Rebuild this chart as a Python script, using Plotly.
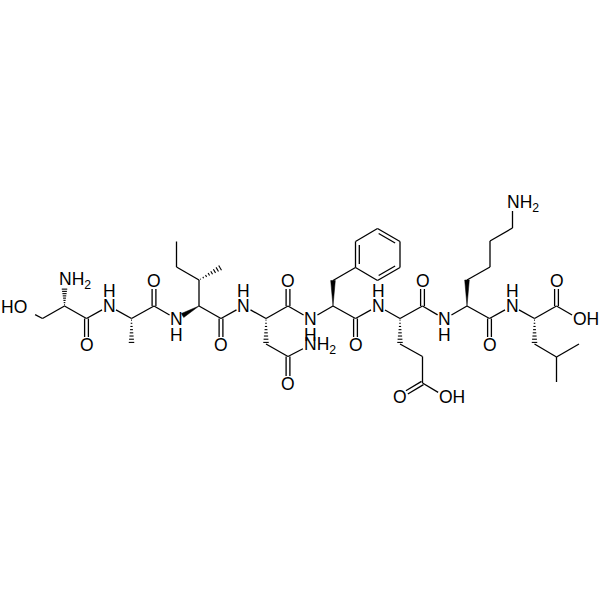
import plotly.graph_objects as go

# atom positions (pixels, y pointing down)
atoms = {
    'ser_o': (28, 311), 'ser_cb': (42.5, 318.5), 'ser_ca': (64.5, 306), 'ser_n': (64.5, 280),
    'ser_c': (86.5, 318.5), 'ser_ox': (86.5, 345),
    'ala_n': (109, 306), 'ala_ca': (131.5, 318.5), 'ala_cb': (131.5, 344),
    'ala_c': (154, 306), 'ala_ox': (154, 281),
    'ile_n': (176.5, 319), 'ile_ca': (199, 306), 'ile_cb': (199, 280), 'ile_cg2': (221.5, 267),
    'ile_cg1': (176.5, 267), 'ile_cd': (176.5, 241.5), 'ile_c': (221, 318.5), 'ile_ox': (221, 345),
    'asn_n': (243.5, 306), 'asn_ca': (266, 318.5), 'asn_cb': (266, 344), 'asn_cg': (288, 356.5),
    'asn_od': (288, 384), 'asn_nd': (310, 345), 'asn_c': (288, 306), 'asn_ox': (288, 281),
    'phe_n': (310.5, 319), 'phe_ca': (333, 306), 'phe_cb': (333, 280.5),
    'phe_c1': (355.5, 267.5), 'phe_c2': (355.5, 241.5), 'phe_c3': (377.5, 228.5),
    'phe_c4': (400, 241.5), 'phe_c5': (400, 267.5), 'phe_c6': (377.5, 280.5),
    'phe_c': (355.5, 318.5), 'phe_ox': (355.5, 345),
    'glu_n': (378, 306), 'glu_ca': (400, 318.5), 'glu_cb': (400, 344), 'glu_cg': (422.5, 356.5),
    'glu_cd': (422.5, 383), 'glu_oe1': (400, 396.5), 'glu_oe2': (445, 396.5),
    'glu_c': (422.5, 306), 'glu_ox': (422.5, 281),
    'lys_n': (444.5, 319), 'lys_ca': (467, 306), 'lys_cb': (467, 280), 'lys_cg': (490, 267),
    'lys_cd': (490, 241), 'lys_ce': (512.5, 228), 'lys_nz': (512.5, 203),
    'lys_c': (489.5, 318.5), 'lys_ox': (489.5, 345),
    'leu_n': (512, 306), 'leu_ca': (534.5, 318.5), 'leu_c': (556.5, 306), 'leu_ox': (556.5, 281),
    'leu_oh': (579, 319), 'leu_cb': (534.5, 344), 'leu_cg': (556.5, 357),
    'leu_cd1': (579, 344), 'leu_cd2': (556.5, 382),
}

single_bonds = [
    ('ser_o', 'ser_cb'), ('ser_cb', 'ser_ca'), ('ser_ca', 'ser_c'), ('ser_c', 'ala_n'), ('ala_n', 'ala_ca'),
    ('ala_ca', 'ala_c'), ('ala_c', 'ile_n'), ('ile_ca', 'ile_cb'), ('ile_cb', 'ile_cg1'), ('ile_cg1', 'ile_cd'),
    ('ile_ca', 'ile_c'), ('ile_c', 'asn_n'), ('asn_n', 'asn_ca'), ('asn_ca', 'asn_c'), ('asn_cb', 'asn_cg'),
    ('asn_cg', 'asn_nd'), ('asn_c', 'phe_n'), ('phe_n', 'phe_ca'), ('phe_ca', 'phe_c'), ('phe_cb', 'phe_c1'),
    ('phe_c', 'glu_n'), ('glu_n', 'glu_ca'), ('glu_ca', 'glu_c'), ('glu_cb', 'glu_cg'), ('glu_cg', 'glu_cd'),
    ('glu_cd', 'glu_oe2'), ('glu_c', 'lys_n'), ('lys_n', 'lys_ca'), ('lys_ca', 'lys_c'), ('lys_cb', 'lys_cg'),
    ('lys_cg', 'lys_cd'), ('lys_cd', 'lys_ce'), ('lys_ce', 'lys_nz'), ('lys_c', 'leu_n'), ('leu_n', 'leu_ca'),
    ('leu_ca', 'leu_c'), ('leu_c', 'leu_oh'), ('leu_cb', 'leu_cg'), ('leu_cg', 'leu_cd1'), ('leu_cg', 'leu_cd2'),
    ('phe_c1', 'phe_c2'), ('phe_c2', 'phe_c3'), ('phe_c3', 'phe_c4'), ('phe_c4', 'phe_c5'), ('phe_c5', 'phe_c6'),
    ('phe_c6', 'phe_c1'),
]
# two strokes either side of the bond axis
double_bonds = [
    ('ser_c', 'ser_ox'), ('ala_c', 'ala_ox'), ('ile_c', 'ile_ox'), ('asn_c', 'asn_ox'), ('asn_cg', 'asn_od'),
    ('phe_c', 'phe_ox'), ('glu_c', 'glu_ox'), ('glu_cd', 'glu_oe1'), ('lys_c', 'lys_ox'), ('leu_c', 'leu_ox'),
]
# second stroke inside the ring
ring_doubles = [('phe_c1', 'phe_c2'), ('phe_c3', 'phe_c4'), ('phe_c5', 'phe_c6')]
ring_center = (377.7, 254.5)

wedge_bonds = [('ile_ca', 'ile_n'), ('phe_ca', 'phe_cb'), ('lys_ca', 'lys_cb')]
hash_bonds = [
    ('ser_ca', 'ser_n'), ('ala_ca', 'ala_cb'), ('ile_cb', 'ile_cg2'), ('asn_ca', 'asn_cb'),
    ('glu_ca', 'glu_cb'), ('leu_ca', 'leu_cb'),
]

# atoms whose bonds stop short of a letter, and by how much
label_gap = {
    'ser_o': 8, 'ser_n': 8, 'ser_ox': 8, 'ala_n': 8, 'ala_ox': 8, 'ile_n': 8, 'ile_ox': 8, 'asn_n': 8,
    'asn_od': 8, 'asn_nd': 8, 'asn_ox': 8, 'phe_n': 8, 'phe_ox': 8, 'glu_n': 8, 'glu_oe1': 8, 'glu_oe2': 8,
    'glu_ox': 8, 'lys_n': 8, 'lys_nz': 8, 'lys_ox': 8, 'leu_n': 8, 'leu_ox': 8, 'leu_oh': 8,
}

centered_labels = [
    ('O', 'ser_ox'), ('N', 'ala_n'), ('O', 'ala_ox'), ('N', 'ile_n'), ('O', 'ile_ox'), ('N', 'asn_n'),
    ('O', 'asn_od'), ('O', 'asn_ox'), ('N', 'phe_n'), ('O', 'phe_ox'), ('N', 'glu_n'), ('O', 'glu_oe1'),
    ('O', 'glu_ox'), ('N', 'lys_n'), ('O', 'lys_ox'), ('N', 'leu_n'), ('O', 'leu_ox'),
]
# H sitting above or below its N
h_above = ['ala_n', 'asn_n', 'glu_n', 'leu_n']
h_below = ['ile_n', 'phe_n', 'lys_n']
# left aligned groups starting at the first letter
left_labels = [
    ('NH<sub>2</sub>', 'ser_n'), ('NH<sub>2</sub>', 'asn_nd'), ('NH<sub>2</sub>', 'lys_nz'),
    ('OH', 'glu_oe2'), ('OH', 'leu_oh'),
]
right_labels = [('HO', 'ser_o')]

ink = '#000000'
line_w = 1.3
font_size = 17.5
font_name = 'Liberation Sans'


def trimmed(a, b):
    (x0, y0), (x1, y1) = atoms[a], atoms[b]
    length = ((x1 - x0) ** 2 + (y1 - y0) ** 2) ** 0.5
    ux, uy = (x1 - x0) / length, (y1 - y0) / length
    ga, gb = label_gap.get(a, 0), label_gap.get(b, 0)
    return x0 + ux * ga, y0 + uy * ga, x1 - ux * gb, y1 - uy * gb, ux, uy, length


xs, ys = [], []
for a, b in single_bonds:
    x0, y0, x1, y1, ux, uy, length = trimmed(a, b)
    xs += [x0, x1, None]
    ys += [y0, y1, None]

fig = go.Figure()
fig.add_trace(go.Scatter(x=xs, y=ys, mode='lines', line=dict(color=ink, width=line_w)))

# C=O strokes
xs, ys = [], []
for a, b in double_bonds:
    x0, y0, x1, y1, ux, uy, length = trimmed(a, b)
    for side in (-1.9, 1.9):
        xs += [x0 - uy * side, x1 - uy * side, None]
        ys += [y0 + ux * side, y1 + ux * side, None]
for a, b in ring_doubles:
    x0, y0, x1, y1, ux, uy, length = trimmed(a, b)
    mx, my = (x0 + x1) / 2, (y0 + y1) / 2
    d = ((ring_center[0] - mx) ** 2 + (ring_center[1] - my) ** 2) ** 0.5
    nx, ny = (ring_center[0] - mx) / d, (ring_center[1] - my) / d
    xs += [x0 + nx * 3.8 + ux * 3.5, x1 + nx * 3.8 - ux * 3.5, None]
    ys += [y0 + ny * 3.8 + uy * 3.5, y1 + ny * 3.8 - uy * 3.5, None]
fig.add_trace(go.Scatter(x=xs, y=ys, mode='lines', line=dict(color=ink, width=line_w)))

# solid wedges, narrow end on the stereocentre
for a, b in wedge_bonds:
    x0, y0, x1, y1, ux, uy, length = trimmed(a, b)
    if b == 'ile_n':
        x1, y1 = x1 + ux * 1.0, y1 + uy * 1.0
    fig.add_trace(go.Scatter(
        x=[x0, x1 - uy * 2.3, x1 + uy * 2.3, x0],
        y=[y0, y1 + ux * 2.3, y1 - ux * 2.3, y0],
        mode='lines', fill='toself', fillcolor=ink, line=dict(color=ink, width=0.5)))

# hashed wedges
xs, ys = [], []
for a, b in hash_bonds:
    x0, y0, x1, y1, ux, uy, length = trimmed(a, b)
    n = 8
    for i in range(n):
        t = (i + 0.5) / n
        half = 2.6 * t + 0.3
        px, py = x0 + (x1 - x0) * t, y0 + (y1 - y0) * t
        xs += [px - uy * half, px + uy * half, None]
        ys += [py + ux * half, py - ux * half, None]
fig.add_trace(go.Scatter(x=xs, y=ys, mode='lines', line=dict(color=ink, width=1.1)))

text_font = dict(family=font_name, size=font_size, color=ink)
for text, atom in centered_labels:
    fig.add_annotation(x=atoms[atom][0], y=atoms[atom][1], text=text, showarrow=False,
                       xanchor='center', yanchor='middle', font=text_font)
for atom in h_above:
    fig.add_annotation(x=atoms[atom][0], y=atoms[atom][1] - 15.5, text='H', showarrow=False,
                       xanchor='center', yanchor='middle', font=text_font)
for atom in h_below:
    fig.add_annotation(x=atoms[atom][0], y=atoms[atom][1] + 15.5, text='H', showarrow=False,
                       xanchor='center', yanchor='middle', font=text_font)
for text, atom in left_labels:
    fig.add_annotation(x=atoms[atom][0] - 8, y=atoms[atom][1], text=text, showarrow=False,
                       xanchor='left', yanchor='middle', font=text_font)
for text, atom in right_labels:
    fig.add_annotation(x=atoms[atom][0] + 1, y=atoms[atom][1] - 4, text=text, showarrow=False,
                       xanchor='right', yanchor='middle', font=text_font)

fig.update_layout(
    width=600, height=600, margin=dict(l=0, r=0, t=0, b=0),
    paper_bgcolor='white', plot_bgcolor='white', showlegend=False,
    xaxis=dict(range=[0, 600], visible=False),
    yaxis=dict(range=[600, 0], visible=False),
)
# the structure runs to the window edges, so drop the page's default margin
fig.write_html("out.html", config={'displayModeBar': False},
               post_script="document.body.style.margin='0';")
